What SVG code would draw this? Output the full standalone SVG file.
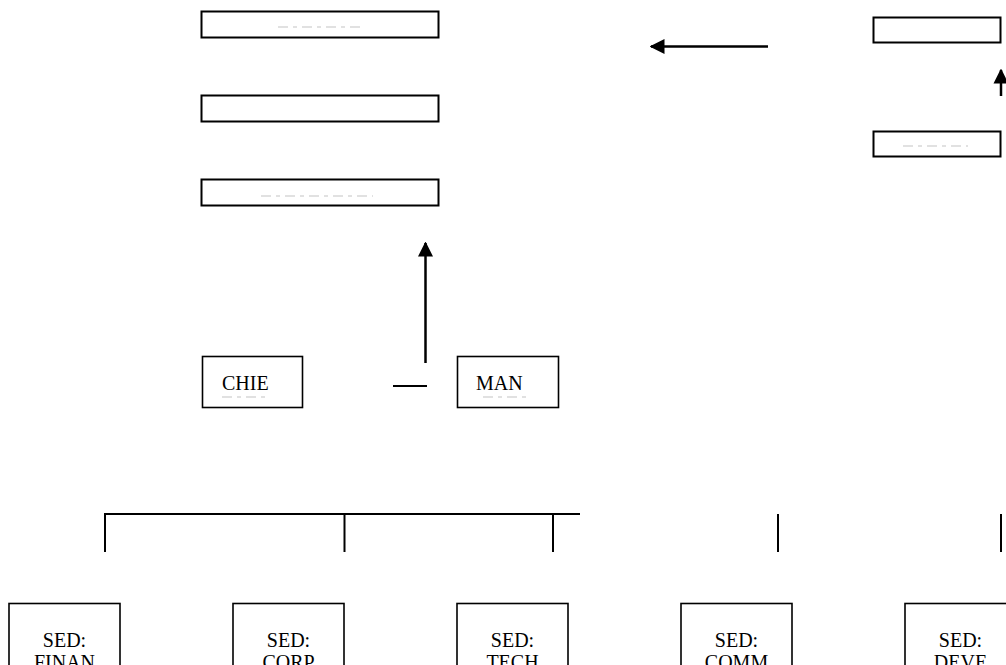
<svg xmlns="http://www.w3.org/2000/svg" width="1006" height="665" viewBox="0 0 1006 665">
<style>
.box{fill:#fff;stroke:#000;stroke-width:2}
.sbox{fill:#fff;stroke:#000;stroke-width:1.6}
.ln{stroke:#000;stroke-width:2;fill:none}
.ar{stroke:#000;stroke-width:2.5;fill:none}
.t{font-family:"Liberation Serif","Times New Roman",serif;font-size:20px;fill:#000}
.sl{stroke:#c4c4c4;stroke-width:1.2;fill:none;stroke-dasharray:10 5 4 5}
</style>
<defs>
<marker id="ah" viewBox="0 0 10 10" refX="9" refY="5" markerWidth="6" markerHeight="6.5" markerUnits="strokeWidth" orient="auto">
<path d="M0,0 L10,5 L0,10 Z" fill="#000"/>
</marker>
<clipPath id="cChie"><rect x="203" y="357" width="99" height="40"/></clipPath>
<clipPath id="cMan"><rect x="458" y="357" width="100" height="40"/></clipPath>
</defs>

<g id="top1"><rect class="box" x="201.5" y="11.5" width="237" height="26"/><line class="sl" x1="278" y1="27" x2="361" y2="27"/></g>
<g id="top2"><rect class="box" x="201.5" y="95.5" width="237" height="26"/></g>
<g id="top3"><rect class="box" x="201.5" y="179.5" width="237" height="26"/><line class="sl" x1="261" y1="196" x2="373" y2="196"/></g>
<g id="right1"><rect class="box" x="873.5" y="17.5" width="127" height="25"/></g>
<g id="right2"><rect class="box" x="873.5" y="131.5" width="127" height="25"/><line class="sl" x1="903" y1="146" x2="968" y2="146"/></g>

<g id="chief"><rect class="sbox" x="202.5" y="356.5" width="100" height="51"/>
<g clip-path="url(#cChie)"><text class="t" x="222" y="390">CHIE</text></g>
<line class="sl" x1="222" y1="397" x2="265" y2="397"/></g>
<g id="manager"><rect class="sbox" x="457.5" y="356.5" width="101" height="51"/>
<g clip-path="url(#cMan)"><text class="t" x="476" y="390">MAN</text></g>
<line class="sl" x1="483" y1="397" x2="529" y2="397"/></g>

<g id="sed1"><rect class="sbox" x="9" y="603.5" width="111" height="70"/>
<text class="t" text-anchor="middle" x="64.5" y="647">SED:</text><text class="t" text-anchor="middle" x="64.5" y="669">FINAN</text></g>
<g id="sed2"><rect class="sbox" x="233" y="603.5" width="111" height="70"/>
<text class="t" text-anchor="middle" x="288.5" y="647">SED:</text><text class="t" text-anchor="middle" x="288.5" y="669">CORP</text></g>
<g id="sed3"><rect class="sbox" x="457" y="603.5" width="111" height="70"/>
<text class="t" text-anchor="middle" x="512.5" y="647">SED:</text><text class="t" text-anchor="middle" x="512.5" y="669">TECH</text></g>
<g id="sed4"><rect class="sbox" x="681" y="603.5" width="111" height="70"/>
<text class="t" text-anchor="middle" x="736.5" y="647">SED:</text><text class="t" text-anchor="middle" x="736.5" y="669">COMM</text></g>
<g id="sed5"><rect class="sbox" x="905" y="603.5" width="111" height="70"/>
<text class="t" text-anchor="middle" x="960.5" y="647">SED:</text><text class="t" text-anchor="middle" x="960.5" y="669">DEVE</text></g>

<g id="connectors">
<line class="ar" x1="768" y1="46.5" x2="651" y2="46.5" marker-end="url(#ah)"/>
<line class="ar" x1="1001" y1="96" x2="1001" y2="70" marker-end="url(#ah)"/>
<line class="ar" x1="425.5" y1="363" x2="425.5" y2="243" marker-end="url(#ah)"/>
<line class="ln" x1="393" y1="386" x2="427" y2="386"/>
<line class="ln" x1="104" y1="514" x2="580" y2="514"/>
<line class="ln" x1="105" y1="513" x2="105" y2="552"/>
<line class="ln" x1="344.5" y1="513" x2="344.5" y2="552"/>
<line class="ln" x1="553" y1="513" x2="553" y2="552"/>
<line class="ln" x1="778" y1="514" x2="778" y2="552"/>
<line class="ln" x1="1001" y1="514" x2="1001" y2="552"/>
</g>
</svg>
